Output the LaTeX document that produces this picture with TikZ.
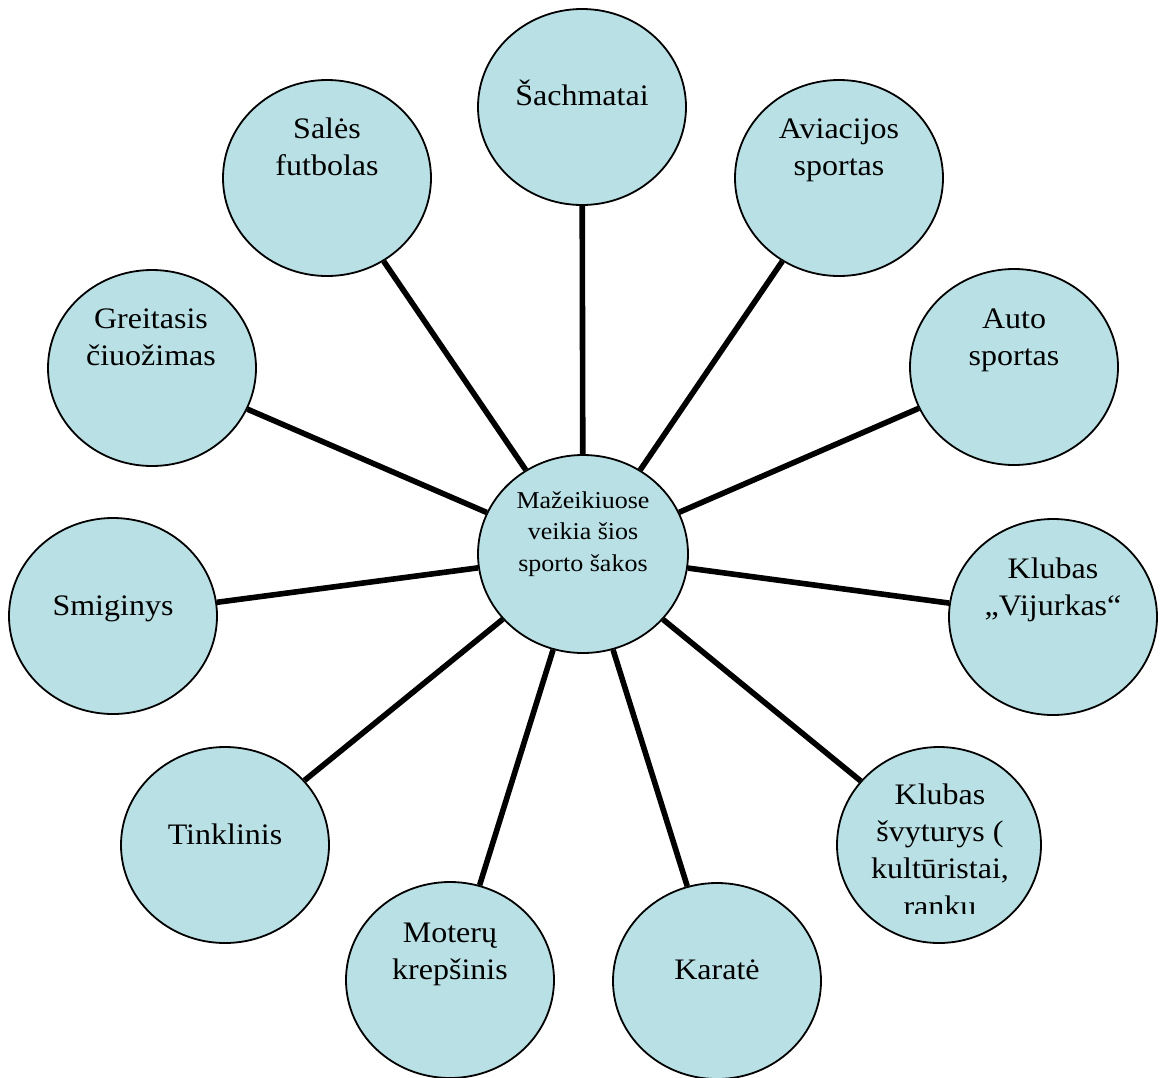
\documentclass[tikz,border=0pt]{standalone}
\usepackage{fontspec}
\setmainfont{Liberation Serif}
\usetikzlibrary{shapes.geometric,backgrounds}
\definecolor{bubble}{RGB}{185,224,228}
\newcommand{\lines}[1]{\begin{tabular}[t]{@{}c@{}}#1\end{tabular}}
\tikzset{
  bubbleshape/.style={ellipse, draw=black, line width=1.8pt, fill=bubble,
    inner sep=0pt, minimum width=208pt, minimum height=196pt},
  hubshape/.style={bubbleshape, minimum width=210pt, minimum height=198pt},
  txt/.style={anchor=base, inner sep=0pt, yscale=0.93,
    font=\fontsize{32}{40.3}\selectfont},
  hubtxt/.style={txt, font=\fontsize{26}{33.9}\selectfont},
  spoke/.style={line width=5.6pt}
}
\begin{document}
\begin{tikzpicture}[x=1pt, y=-1pt]
\useasboundingbox (0,0) rectangle (1165,1077);

% hub and the surrounding sports
\node[hubshape]    (hub)    at (583,554) {};
\node[bubbleshape] (sach)   at (582,107) {};
\node[bubbleshape] (sales)  at (327,178) {};
\node[bubbleshape] (avia)   at (839,178) {};
\node[bubbleshape] (greit)  at (152,368) {};
\node[bubbleshape] (auto)   at (1014,367) {};
\node[bubbleshape] (smig)   at (113,616) {};
\node[bubbleshape] (vij)    at (1053,617) {};
\node[bubbleshape] (tink)   at (225,845) {};
\node[bubbleshape, minimum width=204pt] (svyt) at (939,845) {};
\node[bubbleshape] (mot)    at (450,980) {};
\node[bubbleshape] (kar)    at (717,981) {};

% spokes behind the bubbles
\begin{pgfonlayer}{background}
  \foreach \n in {sach,sales,avia,greit,auto,smig,vij,tink,svyt,mot,kar}
    \draw[spoke] (hub) -- (\n);
\end{pgfonlayer}

% texts
\node[hubtxt] (hubt) at (583,508) {\lines{Mažeikiuose\\veikia šios\\sporto šakos}};
\node[txt] (sacht)  at (582,105) {Šachmatai};
\node[txt] (salest) at (327,138) {\lines{Salės\\futbolas}};
\node[txt] (aviat)  at (839,138) {\lines{Aviacijos\\sportas}};
\node[txt] (greitt) at (151,328) {\lines{Greitasis\\čiuožimas}};
\node[txt] (autot)  at (1014,328) {\lines{Auto\\sportas}};
\node[txt] (smigt)  at (113,615) {Smiginys};
\node[txt] (vijt)   at (1053,578) {\lines{Klubas\\„Vijurkas“}};
\node[txt] (tinkt)  at (225,844) {Tinklinis};
\begin{scope}
  \clip (830,740) rectangle (1050,913);
  \node[txt] (svytt) at (940,804) {\lines{Klubas\\švyturys (\\kultūristai,\\rankų}};
\end{scope}
\node[txt] (mott)   at (450,942) {\lines{Moterų\\krepšinis}};
\node[txt] (kart)   at (717,979) {Karatė};
\end{tikzpicture}
\end{document}
